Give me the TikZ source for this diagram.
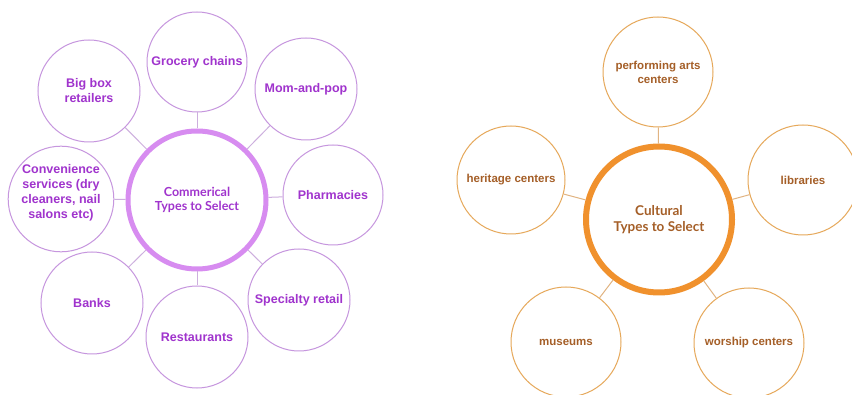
\documentclass[tikz,border=0pt]{standalone}
\usepackage{fontspec}
\setmainfont{Liberation Sans}
\newfontfamily\latofont{Lato}
\definecolor{pText}{RGB}{160,52,205}
\definecolor{pRing}{RGB}{215,140,240}
\definecolor{pEdge}{RGB}{198,150,222}
\definecolor{pLink}{RGB}{205,175,222}
\definecolor{oText}{RGB}{165,95,40}
\definecolor{oRing}{RGB}{240,145,45}
\definecolor{oEdge}{RGB}{230,168,90}
\definecolor{oLink}{RGB}{225,180,130}
\tikzset{
  bubble/.style={circle, draw, line width=1pt, inner sep=0pt, align=center,
    font=\bfseries\fontsize{12.5}{15}\selectfont},
  pbubble/.style={bubble, draw=pEdge, text=pText},
  obubble/.style={bubble, draw=oEdge, text=oText,
    font=\bfseries\fontsize{11.5}{14}\selectfont},
  hub/.style={circle, inner sep=0pt, align=center},
  phub/.style={hub, draw=pRing, line width=5pt, text=pText,
    font=\latofont\bfseries\fontsize{12.5}{14.5}\selectfont},
  ohub/.style={hub, draw=oRing, line width=6pt, text=oText,
    font=\latofont\bfseries\fontsize{13.5}{15.5}\selectfont},
  plink/.style={draw=pLink, line width=1pt},
  olink/.style={draw=oLink, line width=1pt}
}
\begin{document}
\begin{tikzpicture}[x=1pt, y=-1pt]
\useasboundingbox (0,0) rectangle (852,395);
\fill[white] (0,0) rectangle (852,395);
\clip (0,0) rectangle (852,395);

% Commercial types
\node[phub, minimum size=138pt] (com) at (197,200) {Commerical\\Types to Select};
\node[pbubble, minimum size=100pt] (grocery) at (197,62) {Grocery chains};
\node[pbubble, minimum size=102pt] (bigbox) at (89,91) {Big box\\retailers};
\node[pbubble, minimum size=102pt] (mompop) at (306,89) {Mom-and-pop};
\node[pbubble, minimum size=100pt] (pharm) at (333,195) {Pharmacies};
\node[pbubble, minimum size=102pt, text depth=16pt] (conv) at (61,199) {Convenience\\services (dry\\cleaners, nail\\salons etc)};
\node[pbubble, minimum size=102pt] (banks) at (92,303) {Banks};
\node[pbubble, minimum size=102pt] (rest) at (197,337) {Restaurants};
\node[pbubble, minimum size=102pt] (spec) at (299,300) {Specialty retail};

\foreach \n in {grocery,bigbox,mompop,pharm,conv,banks,rest,spec}
  \draw[plink] (com) -- (\n);

% Cultural types
\node[ohub, minimum size=146pt] (cul) at (659,219.5) {Cultural\\Types to Select};
\node[obubble, minimum size=110pt] (perf) at (658,72) {performing arts\\centers};
\node[obubble, minimum size=108pt] (heritage) at (511,180) {heritage centers};
\node[obubble, minimum size=110pt] (lib) at (803,180) {libraries};
\node[obubble, minimum size=110pt] (mus) at (566,342) {museums};
\node[obubble, minimum size=110pt] (worship) at (749,343) {worship centers};

\foreach \n in {perf,heritage,lib,mus,worship}
  \draw[olink] (cul) -- (\n);
\end{tikzpicture}
\end{document}
